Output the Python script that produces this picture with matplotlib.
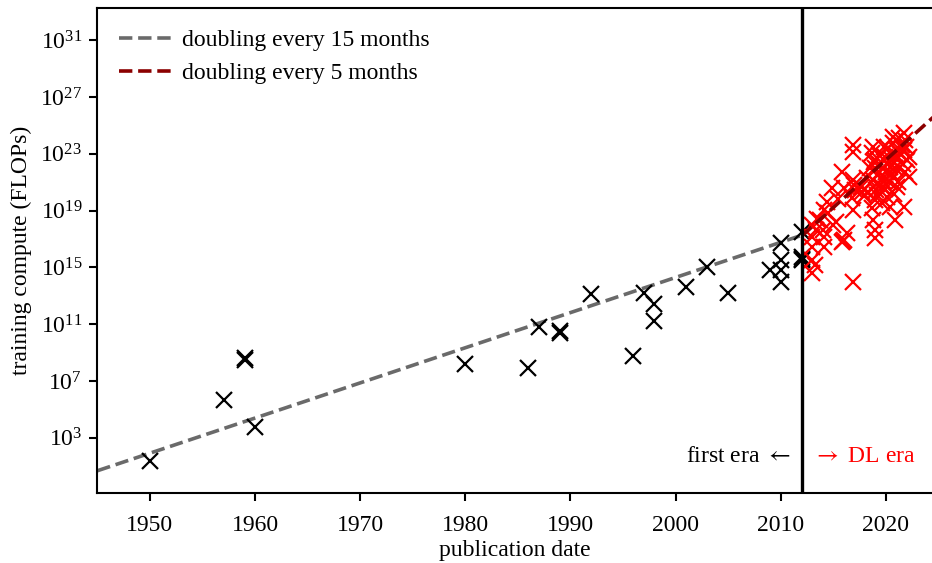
import numpy as np
import matplotlib
matplotlib.use("Agg")
import matplotlib.pyplot as plt
from matplotlib.ticker import FixedLocator, LogFormatterSciNotation, NullLocator

plt.rcParams["font.family"] = ["Liberation Serif", "DejaVu Serif"]
plt.rcParams["mathtext.fontset"] = "stix"

# Systems published before the deep-learning era: (year, log10 FLOPs)
first_year = [1950, 1957, 1959, 1959, 1960, 1980, 1986, 1987, 1989, 1989,
              1992, 1996, 1997, 1998, 1998, 2001, 2003, 2005, 2009, 2010,
              2010, 2010, 2010, 2012, 2012, 2012, 2012]
first_log = [1.38, 5.67, 8.62, 8.48, 3.75, 8.19, 7.88, 10.79, 10.55, 10.40,
             13.13, 8.77, 13.23, 12.41, 11.19, 13.65, 15.06, 13.23, 14.82, 16.70,
             15.53, 14.82, 14.00, 17.52, 15.60, 15.70, 15.55]

# Deep-learning era systems: (year, log10 FLOPs)
dl_year = [2013.0, 2013.0, 2014.1, 2013.0, 2014.1, 2013.0, 2013.0, 2013.3,
           2014.9, 2015.0, 2014.1, 2013.7, 2014.5, 2015.3, 2014.0, 2013.5,
           2015.8, 2016.0, 2015.8, 2016.0, 2015.9,
           2016.9, 2016.9, 2016.9, 2017.1, 2016.9, 2016.9, 2017.0, 2016.8,
           2017.6, 2017.7,
           2018.8, 2018.7, 2019.0, 2019.0, 2018.8, 2019.1, 2019.0, 2018.7,
           2018.8, 2019.0, 2019.0,
           2019.8, 2019.9, 2020.1, 2019.8, 2019.6, 2020.1,
           2020.7, 2020.7, 2021.05, 2020.6, 2020.9, 2020.7, 2021.05, 2020.4,
           2020.9,
           2021.7, 2021.8, 2021.7, 2022.0, 2021.8, 2022.2, 2021.7, 2022.2,
           2019.3, 2019.5, 2018.5, 2020.3, 2020.5, 2021.3, 2021.5, 2019.2,
           2020.0, 2021.0, 2018.3, 2019.6, 2020.8, 2021.2,
           2019.4, 2020.2, 2021.4, 2021.9, 2020.6, 2019.7, 2018.9, 2021.1,
           2020.4, 2019.2, 2021.6, 2020.9, 2019.9, 2021.3, 2017.9, 2018.2,
           2014.4, 2015.5, 2016.3, 2013.4]
dl_log = [17.99, 17.17, 17.17, 16.46, 16.46, 15.53, 14.59, 15.20,
          20.57, 17.99, 19.04, 18.34, 18.80, 18.20, 17.60, 18.40,
          21.74, 20.57, 16.81, 16.93, 16.85,
          23.62, 23.15, 21.16, 20.45, 19.04, 14.00, 20.80, 19.90,
          20.69, 20.33,
          23.50, 23.04, 22.56, 21.98, 21.16, 20.45, 19.75, 19.16,
          18.34, 17.64, 17.05,
          23.50, 22.80, 22.33, 21.39, 20.69, 19.98,
          24.20, 23.74, 23.27, 22.56, 21.98, 21.39, 20.69, 19.28,
          18.34,
          24.44, 23.97, 23.27, 22.56, 21.74, 21.39, 19.28, 22.80,
          21.60, 22.20, 22.00, 21.00, 23.00, 22.00, 23.60, 20.90,
          21.70, 24.00, 20.30, 19.50, 20.20, 21.00,
          22.90, 23.40, 23.00, 23.50, 21.60, 21.10, 22.40, 22.60,
          22.10, 20.10, 22.30, 23.00, 20.50, 24.10, 20.00, 21.30,
          19.60, 19.80, 17.40, 17.60]

# Fitted trends: start year, log10 FLOPs at start, doubling time (months)
era_split = 2012
trend1_start, trend1_log0, trend1_doubling = 1945, 0.68, 14.6
trend2_start, trend2_log0, trend2_doubling = 2012, 17.2, 5.4

y_ticks_exp = [3, 7, 11, 15, 19, 23, 27, 31]
x_ticks = [1950, 1960, 1970, 1980, 1990, 2000, 2010, 2020]

FS = 17

fig = plt.figure(figsize=(9.32, 5.63), dpi=100)
ax = fig.add_axes([0.1045, 0.1245, 0.8955, 0.861])

x_min, x_max = 1945, 2024.4

t1 = np.array([trend1_start, era_split], dtype=float)
l1 = trend1_log0 + (t1 - trend1_start) * np.log10(2) / (trend1_doubling / 12)
t2 = np.array([trend2_start, x_max + 1], dtype=float)
l2 = trend2_log0 + (t2 - trend2_start) * np.log10(2) / (trend2_doubling / 12)

ax.plot(t1, 10 ** l1, ls="--", color="#6a6a6a", lw=2.6, zorder=2,
        label="doubling every 15 months")
ax.plot(t2, 10 ** l2, ls="--", color="#8b0000", lw=2.6, zorder=4,
        label="doubling every 5 months")

ax.plot(first_year, 10 ** np.array(first_log), ls="none", marker="x",
        ms=11.5, mew=1.6, color="black", zorder=3)
ax.plot(dl_year, 10 ** np.array(dl_log), ls="none", marker="x",
        ms=11.5, mew=1.6, color="#ff0000", zorder=3)

ax.axvline(era_split, color="black", lw=2.4, zorder=5)

ax.set_yscale("log")
ax.set_xlim(x_min, x_max)
ax.set_ylim(10 ** -0.88, 10 ** 33.25)

ax.yaxis.set_major_locator(FixedLocator([10.0 ** e for e in y_ticks_exp]))
ax.yaxis.set_major_formatter(LogFormatterSciNotation())
ax.yaxis.set_minor_locator(NullLocator())
ax.set_xticks(x_ticks)

for side in ("left", "bottom", "top"):
    ax.spines[side].set_linewidth(1.5)
ax.spines["right"].set_visible(False)
ax.tick_params(axis="y", which="major", length=6, width=1.5,
               labelsize=FS, direction="out", pad=5)
ax.tick_params(axis="x", which="major", length=6, width=1.5,
               labelsize=FS, direction="out", pad=10)

ax.set_xlabel("publication date", fontsize=FS, labelpad=3)
ax.set_ylabel("training compute (FLOPs)", fontsize=FS, labelpad=6)

ax.annotate("first era $\\leftarrow$", xy=(era_split, 10 ** 1.65),
            xytext=(-8, 0), textcoords="offset points", ha="right",
            va="center", fontsize=FS, color="black")
ax.annotate("$\\rightarrow$ DL era", xy=(era_split, 10 ** 1.65),
            xytext=(8, 0), textcoords="offset points", ha="left",
            va="center", fontsize=FS, color="#ff0000")

ax.legend(loc="upper left", frameon=False, fontsize=FS,
          handlelength=2.2, handletextpad=0.5, labelspacing=0.5,
          borderaxespad=0.5, bbox_to_anchor=(0.0, 1.0))

fig.savefig("out.png", dpi=100)
